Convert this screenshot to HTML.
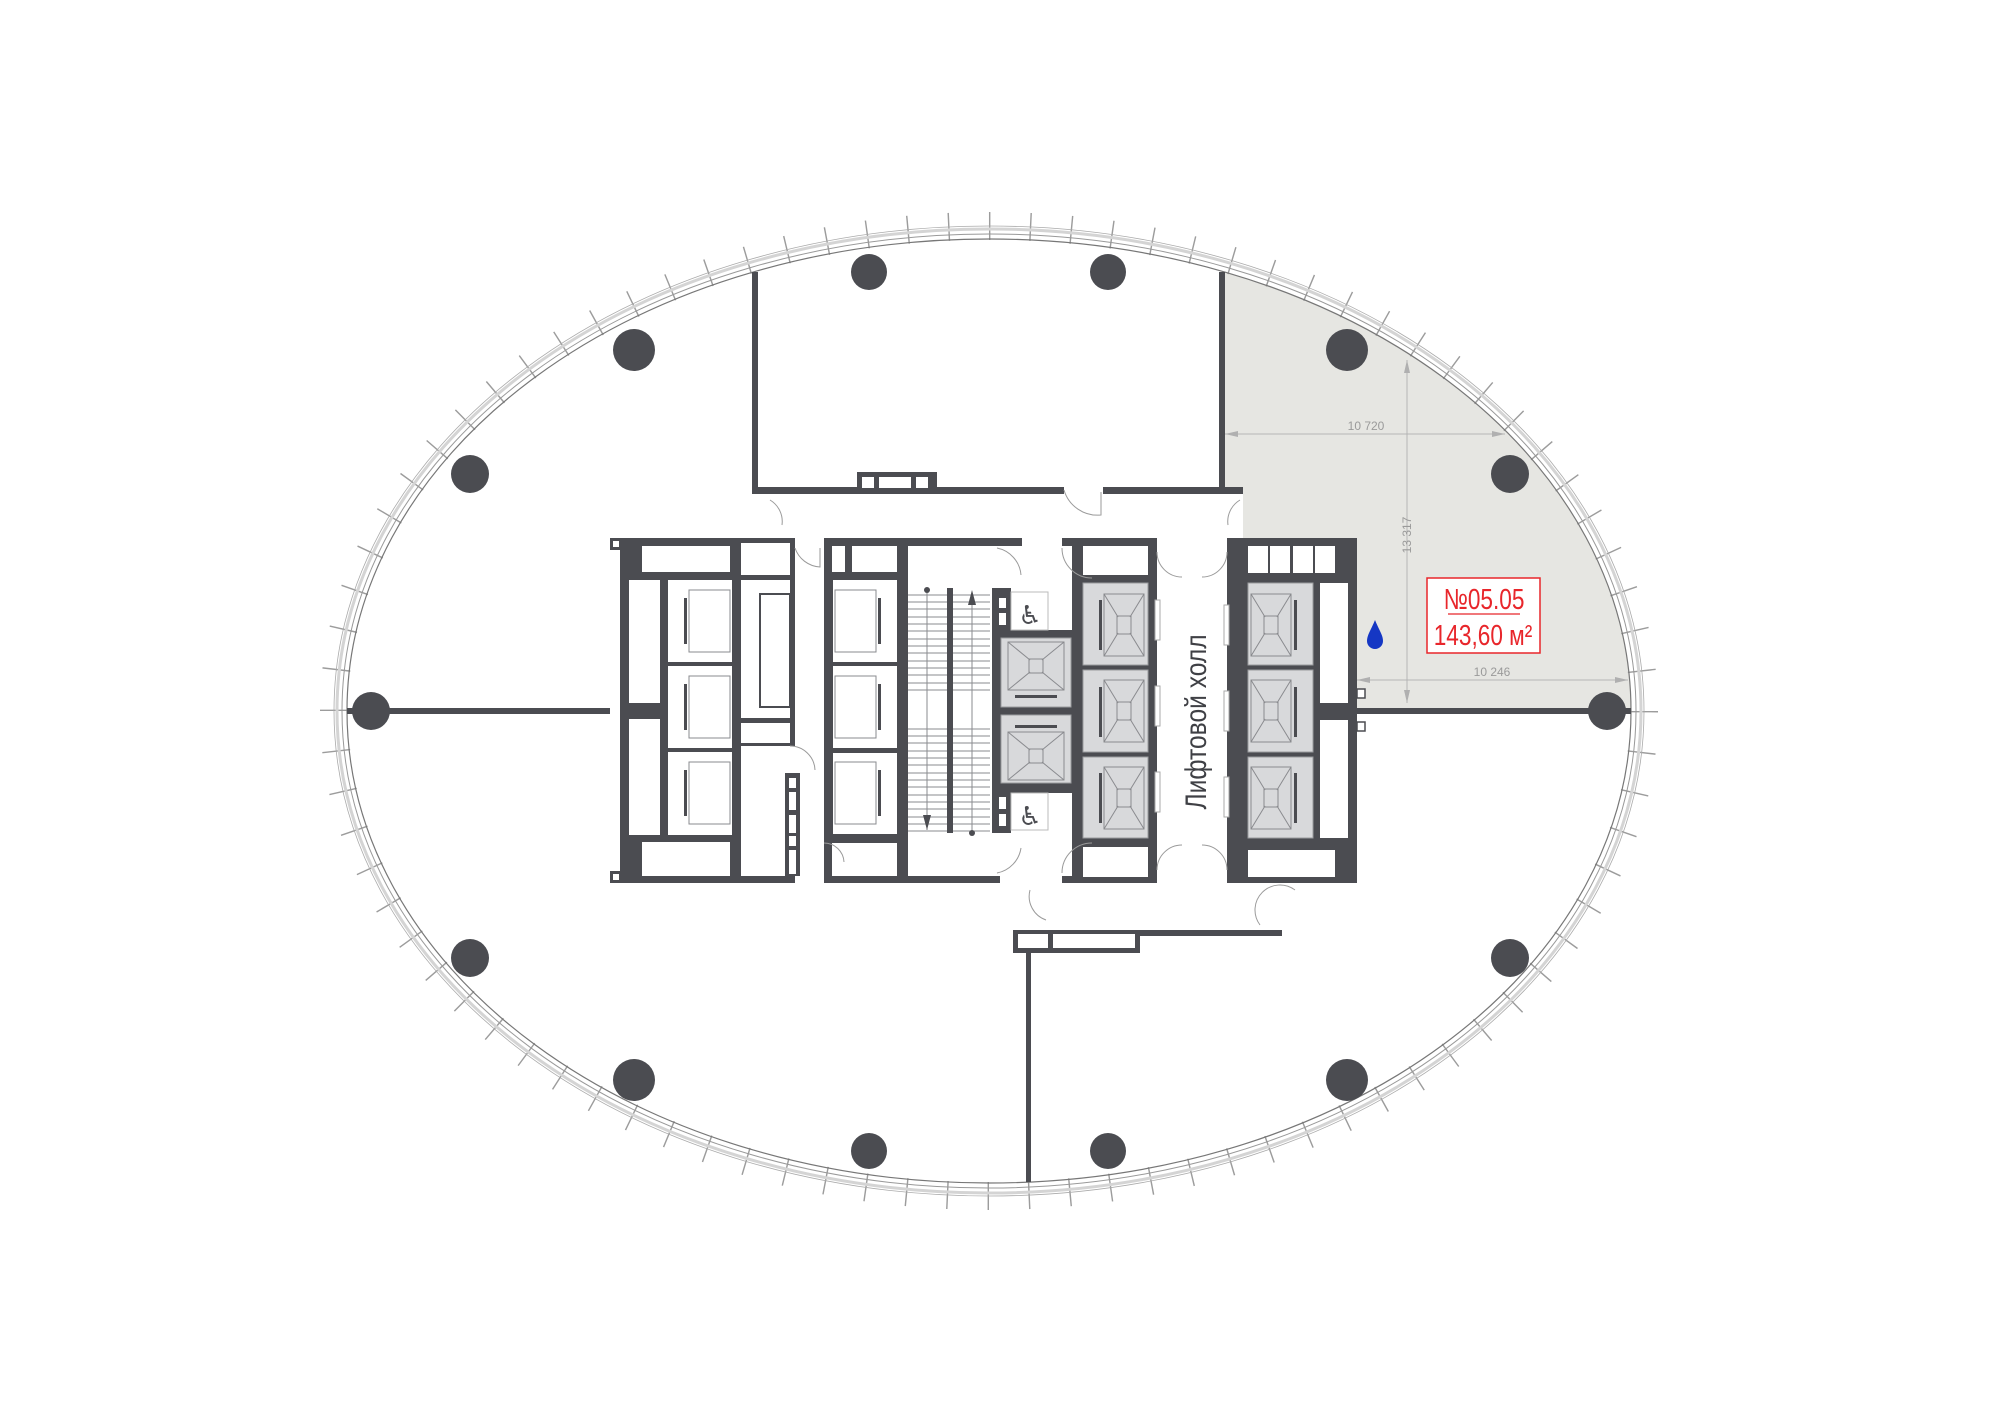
<!DOCTYPE html>
<html><head><meta charset="utf-8"><style>
html,body{margin:0;padding:0;background:#fff;}
svg{display:block;}
.d{fill:#4b4c51;}
.w{fill:#fff;}
.car{fill:#d8d9db;stroke:#9a9b9e;stroke-width:1;}
.ln{stroke:#8a8b8f;stroke-width:1;fill:none;}
.door{stroke:#9a9a9a;stroke-width:1;fill:none;}
</style></head><body>
<svg width="2000" height="1414" viewBox="0 0 2000 1414" xmlns="http://www.w3.org/2000/svg" font-family="'Liberation Sans Narrow','Liberation Sans',sans-serif">
<rect width="2000" height="1414" fill="#fff"/>
<path d="M1222,271 A642,472 0 0 1 1631,709 L1357,709 L1357,538 L1243,538 L1243,493 L1222,493 Z" fill="#e6e6e2"/>
<ellipse cx="989" cy="711" rx="655" ry="485" fill="none" stroke="#9c9c9c" stroke-width="28" pathLength="880" stroke-dasharray="0.35 9.65"/>
<ellipse cx="989" cy="711" rx="642" ry="472" fill="none" stroke="#777" stroke-width="1.2"/>
<ellipse cx="989" cy="711" rx="647" ry="477" fill="none" stroke="#999" stroke-width="1"/>
<ellipse cx="989" cy="711" rx="652" ry="482" fill="none" stroke="#d4d4d4" stroke-width="3"/>
<ellipse cx="989" cy="711" rx="655" ry="485" fill="none" stroke="#aaa" stroke-width="0.8"/>

<rect class="d" x="347" y="708" width="263" height="6"/>
<rect class="d" x="1357" y="708" width="274" height="6"/>
<rect class="d" x="752" y="272" width="6" height="221"/>
<rect class="d" x="752" y="487" width="312" height="7"/>
<rect class="d" x="1103" y="487" width="140" height="7"/>
<rect class="d" x="1219" y="272" width="6" height="221"/>
<rect class="d" x="857" y="472" width="80" height="20"/>
<rect class="w" x="862" y="477" width="12" height="11"/><rect class="w" x="879" y="477" width="32" height="11"/><rect class="w" x="916" y="477" width="12" height="11"/>
<rect class="d" x="1013" y="930" width="127" height="23"/>
<rect class="w" x="1018" y="934" width="30" height="14"/><rect class="w" x="1053" y="934" width="82" height="14"/>
<rect class="d" x="1140" y="930" width="142" height="6"/>
<rect class="d" x="1026" y="950" width="5" height="232"/>

<g class="d">
<circle cx="371" cy="711" r="19"/><circle cx="1607" cy="711" r="19"/>
<circle cx="869" cy="272" r="18"/><circle cx="1108" cy="272" r="18"/>
<circle cx="869" cy="1151" r="18"/><circle cx="1108" cy="1151" r="18"/>
<circle cx="634" cy="350" r="21"/><circle cx="1347" cy="350" r="21"/>
<circle cx="470" cy="474" r="19"/><circle cx="1510" cy="474" r="19"/>
<circle cx="470" cy="958" r="19"/><circle cx="1510" cy="958" r="19"/>
<circle cx="634" cy="1080" r="21"/><circle cx="1347" cy="1080" r="21"/>
</g>

<rect class="d" x="620" y="538" width="175" height="345"/>
<rect class="d" x="610" y="538" width="12" height="12"/><rect class="w" x="613" y="541" width="6" height="6"/>
<rect class="d" x="610" y="871" width="12" height="12"/><rect class="w" x="613" y="874" width="6" height="6"/>
<g class="w">
<rect x="642" y="546" width="88" height="26"/><rect x="741" y="543" width="49" height="32"/>
<rect x="629" y="580" width="31" height="123"/><rect x="629" y="719" width="31" height="116"/>
<rect x="668" y="580" width="64" height="82"/><rect x="668" y="666" width="64" height="82"/><rect x="668" y="752" width="64" height="83"/>
<rect x="741" y="580" width="49" height="138"/><rect x="741" y="723" width="49" height="20"/>
<rect x="741" y="746" width="54" height="130"/>
<rect x="642" y="842" width="88" height="34"/>
</g>
<rect x="760" y="594" width="30" height="113" fill="#fff" stroke="#4b4c51" stroke-width="2"/>
<rect class="d" x="785" y="773" width="15" height="103"/>
<g class="w"><rect x="789" y="778" width="7" height="10"/><rect x="789" y="792" width="7" height="18"/><rect x="789" y="815" width="7" height="18"/><rect x="789" y="836" width="7" height="10"/><rect x="789" y="850" width="7" height="24"/></g>
<g class="ln">
<rect x="689" y="590" width="41" height="62"/><rect x="689" y="676" width="41" height="62"/><rect x="689" y="762" width="41" height="62"/>
</g>
<g class="d"><rect x="684" y="598" width="3" height="46"/><rect x="684" y="684" width="3" height="46"/><rect x="684" y="770" width="3" height="46"/></g>

<rect class="d" x="824" y="538" width="198" height="8"/>
<rect class="d" x="824" y="538" width="84" height="345"/>
<rect class="d" x="824" y="876" width="176" height="7"/>
<g class="w">
<rect x="832" y="546" width="13" height="26"/><rect x="852" y="546" width="45" height="26"/>
<rect x="833" y="580" width="64" height="82"/><rect x="833" y="666" width="64" height="82"/><rect x="833" y="753" width="64" height="81"/>
<rect x="832" y="843" width="65" height="33"/>
</g>
<g class="ln">
<rect x="835" y="590" width="41" height="62"/><rect x="835" y="676" width="41" height="62"/><rect x="835" y="762" width="41" height="62"/>
</g>
<g class="d"><rect x="878" y="598" width="3" height="46"/><rect x="878" y="684" width="3" height="46"/><rect x="878" y="770" width="3" height="46"/></g>
<g stroke="#8a8b8f" stroke-width="1">
<line x1="908" y1="595" x2="990" y2="595"/><line x1="908" y1="602" x2="990" y2="602"/><line x1="908" y1="609" x2="990" y2="609"/><line x1="908" y1="617" x2="990" y2="617"/><line x1="908" y1="624" x2="990" y2="624"/><line x1="908" y1="631" x2="990" y2="631"/><line x1="908" y1="639" x2="990" y2="639"/><line x1="908" y1="646" x2="990" y2="646"/><line x1="908" y1="653" x2="990" y2="653"/><line x1="908" y1="661" x2="990" y2="661"/><line x1="908" y1="668" x2="990" y2="668"/><line x1="908" y1="675" x2="990" y2="675"/><line x1="908" y1="683" x2="990" y2="683"/><line x1="908" y1="690" x2="990" y2="690"/>
<line x1="908" y1="729" x2="990" y2="729"/><line x1="908" y1="736" x2="990" y2="736"/><line x1="908" y1="743" x2="990" y2="743"/><line x1="908" y1="751" x2="990" y2="751"/><line x1="908" y1="758" x2="990" y2="758"/><line x1="908" y1="765" x2="990" y2="765"/><line x1="908" y1="773" x2="990" y2="773"/><line x1="908" y1="780" x2="990" y2="780"/><line x1="908" y1="787" x2="990" y2="787"/><line x1="908" y1="795" x2="990" y2="795"/><line x1="908" y1="802" x2="990" y2="802"/><line x1="908" y1="809" x2="990" y2="809"/><line x1="908" y1="817" x2="990" y2="817"/><line x1="908" y1="824" x2="990" y2="824"/><line x1="908" y1="831" x2="990" y2="831"/>
<line x1="927" y1="590" x2="927" y2="830"/><line x1="972" y1="592" x2="972" y2="833"/>
</g>
<rect class="d" x="947" y="588" width="6" height="245"/>
<circle class="d" cx="927" cy="590" r="3"/><circle class="d" cx="972" cy="833" r="3"/>
<path class="d" d="M968,605 L972,590 L976,605Z M923,815 L927,830 L931,815Z"/>
<rect class="d" x="992" y="588" width="19" height="245"/>
<rect class="d" x="1000" y="630" width="72" height="163"/>
<g class="w"><rect x="999" y="598" width="7" height="10"/><rect x="999" y="613" width="7" height="12"/><rect x="999" y="797" width="7" height="12"/><rect x="999" y="814" width="7" height="12"/></g>
<rect x="1011" y="592" width="37" height="38" fill="#fff" stroke="#bbb" stroke-width="1"/>
<rect x="1011" y="793" width="37" height="37" fill="#fff" stroke="#bbb" stroke-width="1"/>
<text x="1030" y="624" font-size="26" text-anchor="middle" fill="#4b4c51" font-family="'DejaVu Sans',sans-serif">♿</text>
<text x="1030" y="825" font-size="26" text-anchor="middle" fill="#4b4c51" font-family="'DejaVu Sans',sans-serif">♿</text>
<rect class="car" x="1001" y="638" width="70" height="69"/>
<rect class="car" x="1001" y="715" width="70" height="68"/>
<g class="ln"><rect x="1008" y="642" width="56" height="48"/><path d="M1008,642 L1030,660 M1064,642 L1042,660 M1008,690 L1030,672 M1064,690 L1042,672"/><rect x="1029" y="659" width="14" height="14"/>
<rect x="1008" y="732" width="56" height="48"/><path d="M1008,732 L1030,750 M1064,732 L1042,750 M1008,780 L1030,762 M1064,780 L1042,762"/><rect x="1029" y="749" width="14" height="14"/></g>
<rect class="d" x="1015" y="695" width="42" height="3"/><rect class="d" x="1015" y="725" width="42" height="3"/>

<rect class="d" x="1062" y="538" width="95" height="8"/>
<rect class="d" x="1072" y="538" width="85" height="345"/>
<rect class="d" x="1062" y="876" width="95" height="7"/>
<rect class="w" x="1083" y="546" width="65" height="29"/>
<rect class="w" x="1083" y="847" width="65" height="30"/>
<rect class="d" x="1227" y="538" width="130" height="345"/>
<g class="w">
<rect x="1248" y="546" width="20" height="27"/><rect x="1270" y="546" width="20" height="27"/><rect x="1293" y="546" width="20" height="27"/><rect x="1315" y="546" width="20" height="27"/>
<rect x="1320" y="583" width="28" height="120"/><rect x="1320" y="720" width="28" height="118"/>
<rect x="1248" y="850" width="87" height="27"/>
<rect x="1357" y="689" width="8" height="9" stroke="#4b4c51" stroke-width="1.5"/><rect x="1357" y="722" width="8" height="9" stroke="#4b4c51" stroke-width="1.5"/>
</g>
<g fill="#fff" stroke="#aaa" stroke-width="1">
<rect x="1155" y="600" width="5" height="40"/><rect x="1155" y="686" width="5" height="40"/><rect x="1155" y="772" width="5" height="40"/>
<rect x="1224" y="605" width="5" height="40"/><rect x="1224" y="691" width="5" height="40"/><rect x="1224" y="777" width="5" height="40"/>
</g>
<g>
<rect class="car" x="1083" y="583" width="65" height="82"/>
<rect class="car" x="1083" y="670" width="65" height="82"/>
<rect class="car" x="1083" y="757" width="65" height="81"/>
<rect class="car" x="1248" y="583" width="65" height="82"/>
<rect class="car" x="1248" y="670" width="65" height="82"/>
<rect class="car" x="1248" y="757" width="65" height="81"/>
</g>
<g class="ln">
<rect x="1104" y="594" width="40" height="62"/><path d="M1104,594 L1118,617 M1144,594 L1130,617 M1104,656 L1118,633 M1144,656 L1130,633"/><rect x="1117" y="616" width="14" height="18"/>
<rect x="1104" y="680" width="40" height="62"/><path d="M1104,680 L1118,703 M1144,680 L1130,703 M1104,742 L1118,719 M1144,742 L1130,719"/><rect x="1117" y="702" width="14" height="18"/>
<rect x="1104" y="767" width="40" height="62"/><path d="M1104,767 L1118,790 M1144,767 L1130,790 M1104,829 L1118,806 M1144,829 L1130,806"/><rect x="1117" y="789" width="14" height="18"/>
<rect x="1251" y="594" width="40" height="62"/><path d="M1251,594 L1265,617 M1291,594 L1277,617 M1251,656 L1265,633 M1291,656 L1277,633"/><rect x="1264" y="616" width="14" height="18"/>
<rect x="1251" y="680" width="40" height="62"/><path d="M1251,680 L1265,703 M1291,680 L1277,703 M1251,742 L1265,719 M1291,742 L1277,719"/><rect x="1264" y="702" width="14" height="18"/>
<rect x="1251" y="767" width="40" height="62"/><path d="M1251,767 L1265,790 M1291,767 L1277,790 M1251,829 L1265,806 M1291,829 L1277,806"/><rect x="1264" y="789" width="14" height="18"/>
</g>
<g class="d">
<rect x="1099" y="600" width="3" height="50"/><rect x="1099" y="687" width="3" height="50"/><rect x="1099" y="773" width="3" height="50"/>
<rect x="1294" y="600" width="3" height="50"/><rect x="1294" y="687" width="3" height="50"/><rect x="1294" y="773" width="3" height="50"/>
</g>
<text transform="translate(1206,722) rotate(-90) scale(0.82,1)" font-size="30" text-anchor="middle" fill="#3f4045">Лифтовой холл</text>

<g class="door">
<path d="M795,548 A28,28 0 0 0 820,567 L820,548"/>
<path d="M997,548 A30,30 0 0 1 1021,575"/><path d="M1062,548 A30,30 0 0 0 1092,578"/>
<path d="M1157,552 A25,25 0 0 0 1182,577 M1227,552 A25,25 0 0 1 1202,577"/>
<path d="M1157,870 A25,25 0 0 1 1182,845 M1227,870 A25,25 0 0 0 1202,845"/>
<path d="M997,873 A30,30 0 0 0 1021,848"/><path d="M1062,873 A30,30 0 0 1 1092,843"/>
<path d="M790,746 A25,25 0 0 1 815,770"/><path d="M824,843 A20,20 0 0 1 844,862"/>
<path d="M1064,490 A35,35 0 0 0 1101,515 L1101,492"/>
<path d="M770,500 A25,25 0 0 1 782,525 M1240,500 A25,25 0 0 0 1228,525"/>
<path d="M1030,890 A25,25 0 0 0 1046,920 M1295,890 A25,25 0 0 0 1260,925"/>
</g>

<g stroke="#b5b5b5" stroke-width="1">
<line x1="1225" y1="434" x2="1505" y2="434"/>
<line x1="1407" y1="360" x2="1407" y2="703"/>
<line x1="1357" y1="680" x2="1628" y2="680"/>
</g>
<g fill="#b0b0b0">
<path d="M1225,434 L1238,431 L1238,437Z M1505,434 L1492,431 L1492,437Z"/>
<path d="M1407,360 L1404,373 L1410,373Z M1407,703 L1404,690 L1410,690Z"/>
<path d="M1357,680 L1370,677 L1370,683Z M1628,680 L1615,677 L1615,683Z"/>
</g>
<g fill="#9a9a9a" font-size="12" text-anchor="middle">
<text x="1366" y="430">10 720</text>
<text x="1492" y="676">10 246</text>
<text transform="translate(1411,535) rotate(-90)" text-anchor="middle">13 317</text>
</g>

<rect x="1427" y="578" width="113" height="75" fill="#fff" stroke="#e8262b" stroke-width="1.5"/>
<line x1="1448" y1="614" x2="1520" y2="614" stroke="#e8262b" stroke-width="1.2"/>
<text transform="translate(1484,609) scale(0.78,1)" font-size="29" fill="#e8262b" text-anchor="middle">№05.05</text>
<text transform="translate(1483,645) scale(0.78,1)" font-size="29" fill="#e8262b" text-anchor="middle">143,60 м²</text>
<path d="M1375,620 C1371,630 1367,635 1367,641 A8,8 0 0 0 1383,641 C1383,635 1379,630 1375,620Z" fill="#1537c4"/>
</svg>
</body></html>
